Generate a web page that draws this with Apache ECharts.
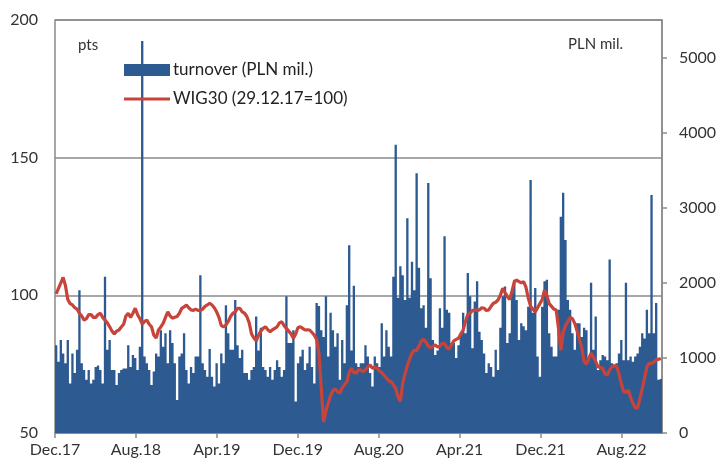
<!DOCTYPE html>
<html><head><meta charset="utf-8">
<script src="https://cdn.jsdelivr.net/npm/echarts@6/dist/echarts.min.js"></script>
<style>html,body{margin:0;padding:0;background:#fff}#c{width:720px;height:465px}</style>
</head><body><div id="c"></div>
<script>
// x axis: months since 29.12.2017, labels every 8 months
const tickLabels = ['Dec.17','Aug.18','Apr.19','Dec.19','Aug.20','Apr.21','Dec.21','Aug.22'];
const tickMonths = [0, 8, 16, 24, 32, 40, 48, 56];
const monthsSpan = 60;
const leftTicks = [50, 100, 150, 200];
const rightTicks = [0, 1000, 2000, 3000, 4000, 5000];

// weekly turnover, PLN mil.
const turnover = [
1170,950,1240,1060,930,1240,660,1060,800,1110,1900,930,840,710,840,660,710,880,900,840,
660,2080,1110,1240,840,840,640,800,840,860,860,1170,880,1040,1000,840,1150,5220,1020,930,
840,640,820,1060,1020,1370,1150,1330,930,1370,1200,930,440,1020,1060,1330,840,660,880,800,
1020,1020,2100,930,840,750,1120,750,620,930,660,1060,930,1700,1330,1110,1110,1770,1170,1000,
1110,800,800,710,840,880,1550,1100,1400,880,840,750,880,710,840,970,880,750,840,1820,
1200,1200,1370,420,930,1020,1110,840,930,1150,880,660,1730,1690,1370,1280,1820,1020,1600,1370,
1150,1330,710,1240,930,1700,2500,1100,1960,930,880,930,930,1170,1020,800,620,1020,930,880,
1460,1020,1370,1150,1020,2080,3840,1800,2220,2100,1770,2860,1800,2280,1900,3460,2200,1660,1700,1400,
3330,2060,1240,1040,1100,1660,1400,2620,1640,1600,1200,1200,1000,1170,1330,1600,1330,2130,1820,1130,
1750,2020,1350,1240,1060,800,930,880,750,1110,840,1400,1820,1950,1200,1330,1860,2040,1770,1240,
1460,1420,1370,1680,3370,1600,1930,1020,750,1680,2020,2040,1330,1150,1020,1020,1640,2880,3200,2570,
1770,1640,1330,1110,1460,1460,1280,1400,1370,970,2000,1110,1550,840,970,1040,1020,970,2310,930,
880,930,1060,1240,970,2000,970,1020,950,1020,1060,1150,1330,1260,1640,1330,3170,1330,1730,710,
720
];

// weekly WIG30 (29.12.17 = 100)
const wig30 = [
100.5,102.5,104.5,106.5,103.5,98.5,97,96.5,95.5,95,93.5,92.5,91,91.5,93,93,92,92,93,93.5,
92,91,90,88.6,87,86,87,87.4,88.5,89.5,92.5,93.5,92,93.5,95.3,93,91.5,89.5,90.5,91,
89.5,88.6,85.5,84.5,87.4,88.5,89.8,92,94,92.5,91.7,92,92.3,93.5,95.3,95.8,96.5,95.5,94.7,94.5,
95,94.5,94.5,95,96,96.5,97.1,96.5,95.5,94,92,89,88.6,89.2,90.5,92.3,93.5,94,95.3,95.3,
94,93.5,92.3,90,86,84.5,83.5,85.5,87,88,88.6,87.5,86.8,87.5,88,88.6,90,90.4,89,88,
87,86,84.4,86,88.3,88.6,88,87.4,87.5,87.4,86.5,85.5,84,79,66,54,58,61,63.5,65.5,
66,65,64.5,66.5,67.5,68.6,72,73.5,72,71.7,72.9,72.9,72.3,73,74,74.7,73.5,74,73.5,72.5,
72,71,70,69,68.6,67.5,66.2,63,61.5,68,71.5,74.5,77,79,80,80,81.5,83.5,84,83,
81.5,81,81.5,82,81.2,81.5,82.6,82.5,81,80.5,82,83.5,84,84.4,86,87.4,90.5,93,93.5,94.5,
94.7,94.5,94.7,95.5,95.3,94.5,94.7,96,97.1,97.5,98.3,100,102.6,101,99.6,98.5,101.5,105,105.5,105,
104.5,105,103,99,96,95,94,95.5,97,98.5,102,100,97,96,95,94.7,88,80,86.5,89,
90.5,92,91.5,89.8,87,84,81,76,75,77,79,77.5,76,74,73.8,73.5,71.5,71,73,74,
74.5,74.2,71.5,68,65,64.8,65.6,63,60.8,59.2,59,62.5,66,70,74,75.3,75.3,75.8,76.5,76.8,
77.1
];

const N = turnover.length;
const weeks = turnover.map((_, i) => 'w' + (i + 1));   // weekly categories
const xOf = i => (i + 0.5) * monthsSpan / N;
const lineData = wig30.map((v, i) => [xOf(i), v]);

const GREY = '#8a8a8a';
const BLUE = '#2e5a92';
const RED = '#c8433a';
const FONT = 'Lato';
const lineIcon = 'path://M0,0L0.01,0L0.01,0.01Z M0,4.6L46,4.6L46,7.4L0,7.4Z M0,12L0.01,12L0.01,11.99Z';
const chart = echarts.init(document.getElementById('c'), null, {renderer: 'canvas'});
chart.setOption({
  animation: false,
  backgroundColor: '#fff',
  textStyle: {fontFamily: FONT},
  grid: {left: 55, right: 58, top: 20, bottom: 32, show: true, borderColor: GREY, borderWidth: 1.5},
  legend: {
    orient: 'vertical', left: 124, top: 61, padding: 0, itemWidth: 46, itemHeight: 12, itemGap: 11,
    textStyle: {fontSize: 17, color: '#222', fontFamily: FONT, lineHeight: 18, padding: [0, 0, 0, -2]},
    data: [{name: 'turnover (PLN mil.)', icon: 'rect'}, {name: 'WIG30 (29.12.17=100)', icon: lineIcon}]
  },
  xAxis: [{
    type: 'value', min: 0, max: monthsSpan, interval: 8,
    axisLine: {show: true, lineStyle: {color: GREY, width: 1.5}},
    axisTick: {show: true, length: 5, customValues: tickMonths, lineStyle: {color: GREY, width: 1.5}},
    axisLabel: {customValues: tickMonths, formatter: v => tickLabels[tickMonths.indexOf(Math.round(v))] || '',
      fontSize: 16, color: '#333', margin: 9, fontFamily: FONT},
    splitLine: {show: false}
  }, {
    type: 'category', data: weeks, boundaryGap: true, show: false
  }],
  yAxis: [{
    type: 'value', position: 'left', min: 50, max: 200, interval: 50,
    axisLine: {show: false}, axisTick: {show: false},
    axisLabel: {customValues: leftTicks, formatter: v => String(v), fontSize: 16, color: '#333', margin: 17, fontFamily: FONT},
    splitLine: {show: true, lineStyle: {color: GREY, width: 1.5}}
  }, {
    type: 'value', position: 'right', min: 0, max: 5500, interval: 1000,
    axisLine: {show: true, lineStyle: {color: GREY, width: 1.5}},
    axisTick: {show: true, length: 5, customValues: rightTicks, lineStyle: {color: GREY, width: 1.5}},
    axisLabel: {customValues: rightTicks, formatter: v => String(v), fontSize: 16, color: '#333', margin: 17, fontFamily: FONT},
    splitLine: {show: false}
  }],
  graphic: [
    {type: 'text', left: 78, top: 38, style: {text: 'pts', fontSize: 15, fontFamily: FONT, fill: '#333'}},
    {type: 'text', left: 568, top: 37, style: {text: 'PLN mil.', fontSize: 15, fontFamily: FONT, fill: '#333'}}
  ],
  series: [{
    name: 'turnover (PLN mil.)', type: 'bar', xAxisIndex: 1, yAxisIndex: 1, data: turnover,
    barCategoryGap: '0%', barGap: '0%', large: true, largeThreshold: 10,
    itemStyle: {color: BLUE}, z: 2
  }, {
    name: 'WIG30 (29.12.17=100)', type: 'line', xAxisIndex: 0, yAxisIndex: 0, data: lineData,
    symbol: 'none', lineStyle: {color: RED, width: 3.2}, itemStyle: {color: RED}, z: 3
  }]
});
</script></body></html>
